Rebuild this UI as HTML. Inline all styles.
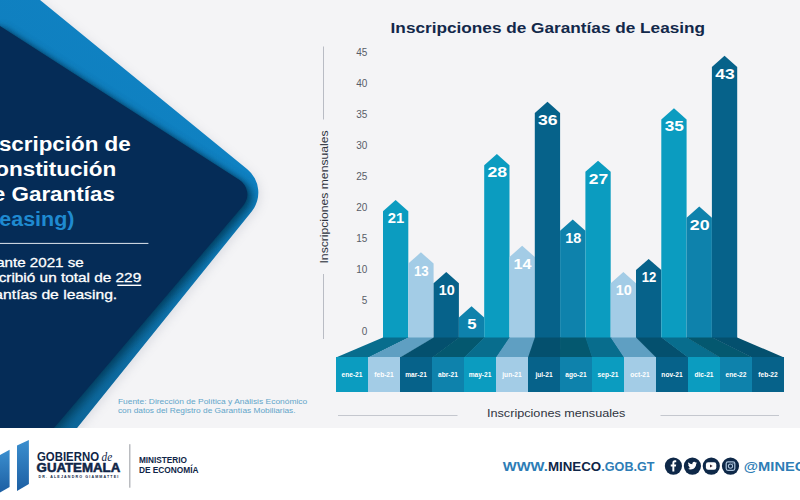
<!DOCTYPE html>
<html><head><meta charset="utf-8"><title>Inscripciones de Garantías de Leasing</title>
<style>
html,body{margin:0;padding:0;}
body{width:800px;height:500px;overflow:hidden;background:#f4f4f6;font-family:"Liberation Sans",sans-serif;position:relative;}
svg{position:absolute;left:0;top:0;}
text{font-family:"Liberation Sans",sans-serif;}
.mo{font-size:6.6px;font-weight:bold;fill:#fff;}
.num{font-size:13.8px;font-weight:bold;fill:#fff;}
.ax{font-size:10px;fill:#585d68;}
.ttl{font-size:15px;font-weight:bold;fill:#12284a;}
.h1{font-size:20px;font-weight:bold;fill:#fff;}
.body{font-size:13.4px;fill:#fff;stroke:#fff;stroke-width:0.3px;}
.src{font-size:7.3px;fill:#62a5c9;}
.xl{font-size:11px;fill:#30353f;}
</style></head><body>
<svg width="800" height="500" viewBox="0 0 800 500">
<defs>
<linearGradient id="gb" gradientUnits="userSpaceOnUse" x1="60" y1="300" x2="260" y2="100">
<stop offset="0" stop-color="#107cbb"/><stop offset="1" stop-color="#0f83c4"/></linearGradient>
<linearGradient id="dk" x1="0" y1="0" x2="0" y2="1"><stop offset="0" stop-color="#063f5e" stop-opacity="0"/><stop offset="1" stop-color="#063f5e" stop-opacity="0.36"/></linearGradient>
<filter id="sh3" x="-20%" y="-20%" width="140%" height="140%"><feGaussianBlur stdDeviation="2.2"/></filter>
<filter id="sh" x="-20%" y="-20%" width="140%" height="140%"><feGaussianBlur stdDeviation="5"/></filter>
<filter id="sh2" x="-20%" y="-20%" width="140%" height="140%"><feGaussianBlur stdDeviation="4"/></filter>
<clipPath id="cb"><path d="M-5.00 -5.00 L33.90 -5.00 L247.31 169.34 A30.00 30.00 0 0 1 251.68 211.41 L77.00 428.00 L-5.00 428.00 Z"/></clipPath>
<clipPath id="top"><rect x="0" y="0" width="800" height="428"/></clipPath>
<linearGradient id="lg" x1="0" y1="0" x2="0" y2="1"><stop offset="0" stop-color="#3b8fcf"/><stop offset="1" stop-color="#1d5fa3"/></linearGradient>
</defs>
<rect x="0" y="428" width="800" height="72" fill="#ffffff"/>
<g clip-path="url(#top)">
<path d="M-5.00 -5.00 L33.90 -5.00 L247.31 169.34 A30.00 30.00 0 0 1 251.68 211.41 L77.00 428.00 L-5.00 428.00 Z" fill="#9095a8" opacity="0.22" filter="url(#sh)" transform="translate(2.5,2.5)"/>
<path d="M-5.00 -5.00 L33.90 -5.00 L247.31 169.34 A30.00 30.00 0 0 1 251.68 211.41 L77.00 428.00 L-5.00 428.00 Z" fill="url(#gb)"/>
<g clip-path="url(#cb)">
<path d="M-5.00 22.80 L239.56 180.09 A17.00 17.00 0 0 1 243.31 205.40 L54.00 428.00 L-5.00 428.00 Z" fill="#063c5c" opacity="0.8" filter="url(#sh2)" transform="translate(5.5,3.5)"/>
<path d="M-5.00 22.80 L239.56 180.09 A17.00 17.00 0 0 1 243.31 205.40 L54.00 428.00 L-5.00 428.00 Z" fill="#04203f" opacity="0.45" filter="url(#sh3)"/>
<rect x="0" y="200" width="300" height="228" fill="url(#dk)"/>
</g>
<path d="M-5.00 22.80 L239.56 180.09 A17.00 17.00 0 0 1 243.31 205.40 L54.00 428.00 L-5.00 428.00 Z" fill="#052c57"/>
</g>
<!-- left texts -->
<text class="h1" x="-21" y="150.5" textLength="151.7" lengthAdjust="spacingAndGlyphs">Inscripción de</text>
<text class="h1" x="-21" y="175.7" textLength="137.2" lengthAdjust="spacingAndGlyphs">Constitución</text>
<text class="h1" x="-21" y="201" textLength="136" lengthAdjust="spacingAndGlyphs">de Garantías</text>
<text class="h1" x="-21" y="226.2" textLength="95.5" lengthAdjust="spacingAndGlyphs" style="fill:#1f8ad0">(Leasing)</text>
<rect x="0" y="242.9" width="148.4" height="1" fill="#dfe6ee"/>
<text class="body" x="-28.2" y="267" textLength="111.9" lengthAdjust="spacingAndGlyphs">Durante 2021 se</text>
<text class="body" x="-21" y="282.3" textLength="162.2" lengthAdjust="spacingAndGlyphs">inscribió un total de 229</text>
<rect x="117.3" y="284.6" width="24" height="1.4" fill="#fff"/>
<text class="body" x="-28.3" y="298.7" textLength="145.5" lengthAdjust="spacingAndGlyphs">garantías de leasing.</text>
<text class="src" x="117.9" y="403.9" textLength="189.4" lengthAdjust="spacingAndGlyphs">Fuente: Dirección de Política y Análisis Económico</text>
<text class="src" x="117.9" y="413" textLength="177.7" lengthAdjust="spacingAndGlyphs">con datos del Registro de Garantías Mobiliarias.</text>
<!-- chart -->
<text class="ttl" x="390.6" y="33.4" textLength="314.5" lengthAdjust="spacingAndGlyphs">Inscripciones de Garantías de Leasing</text>
<rect x="323" y="46.5" width="1" height="73" fill="#b9bcc4"/>
<rect x="323" y="274" width="1" height="65" fill="#b9bcc4"/>
<text class="xl" transform="translate(328,263.5) rotate(-90)" textLength="133" lengthAdjust="spacingAndGlyphs">Inscripciones mensuales</text>
<polygon fill="#0b9cc0" points="383.00,338.00 383.00,211.15 395.65,199.95 408.30,211.15 408.30,338.00"/>
<polygon fill="#a3cce6" points="408.30,338.00 408.30,263.55 420.95,252.35 433.60,263.55 433.60,338.00"/>
<polygon fill="#06628a" points="433.60,338.00 433.60,283.20 446.25,272.00 458.90,283.20 458.90,338.00"/>
<polygon fill="#0e82ac" points="458.90,338.00 458.90,317.55 471.55,306.35 484.20,317.55 484.20,338.00"/>
<polygon fill="#0b9cc0" points="484.20,338.00 484.20,165.30 496.85,154.10 509.50,165.30 509.50,338.00"/>
<polygon fill="#a3cce6" points="509.50,338.00 509.50,257.00 522.15,245.80 534.80,257.00 534.80,338.00"/>
<polygon fill="#06628a" points="534.80,338.00 534.80,112.90 547.45,101.70 560.10,112.90 560.10,338.00"/>
<polygon fill="#0e82ac" points="560.10,338.00 560.10,230.80 572.75,219.60 585.40,230.80 585.40,338.00"/>
<polygon fill="#0b9cc0" points="585.40,338.00 585.40,171.85 598.05,160.65 610.70,171.85 610.70,338.00"/>
<polygon fill="#a3cce6" points="610.70,338.00 610.70,283.20 623.35,272.00 636.00,283.20 636.00,338.00"/>
<polygon fill="#06628a" points="636.00,338.00 636.00,270.10 648.65,258.90 661.30,270.10 661.30,338.00"/>
<polygon fill="#0b9cc0" points="661.30,338.00 661.30,119.45 673.95,108.25 686.60,119.45 686.60,338.00"/>
<polygon fill="#0e82ac" points="686.60,338.00 686.60,217.70 699.25,206.50 711.90,217.70 711.90,338.00"/>
<polygon fill="#06628a" points="711.90,338.00 711.90,67.05 724.55,55.85 737.20,67.05 737.20,338.00"/>
<polygon fill="#086d8d" points="383.00,337.50 408.90,337.50 368.60,357.50 336.00,357.50"/>
<polygon fill="#5f9fc2" points="408.30,337.50 434.20,337.50 400.60,357.50 368.00,357.50"/>
<polygon fill="#04506e" points="433.60,337.50 459.50,337.50 432.60,357.50 400.00,357.50"/>
<polygon fill="#04586f" points="458.90,337.50 484.80,337.50 464.60,357.50 432.00,357.50"/>
<polygon fill="#086d8d" points="484.20,337.50 510.10,337.50 496.60,357.50 464.00,357.50"/>
<polygon fill="#5f9fc2" points="509.50,337.50 535.40,337.50 528.60,357.50 496.00,357.50"/>
<polygon fill="#04506e" points="534.80,337.50 560.70,337.50 560.60,357.50 528.00,357.50"/>
<polygon fill="#04586f" points="560.10,337.50 586.00,337.50 592.60,357.50 560.00,357.50"/>
<polygon fill="#086d8d" points="585.40,337.50 611.30,337.50 624.60,357.50 592.00,357.50"/>
<polygon fill="#5f9fc2" points="610.70,337.50 636.60,337.50 656.60,357.50 624.00,357.50"/>
<polygon fill="#04506e" points="636.00,337.50 661.90,337.50 688.60,357.50 656.00,357.50"/>
<polygon fill="#086d8d" points="661.30,337.50 687.20,337.50 720.60,357.50 688.00,357.50"/>
<polygon fill="#04586f" points="686.60,337.50 712.50,337.50 752.60,357.50 720.00,357.50"/>
<polygon fill="#04506e" points="711.90,337.50 737.20,337.50 784.00,357.50 752.00,357.50"/>
<rect fill="#0b9cc0" x="336.00" y="357.00" width="32.30" height="35.00"/>
<rect fill="#a3cce6" x="368.00" y="357.00" width="32.30" height="35.00"/>
<rect fill="#06628a" x="400.00" y="357.00" width="32.30" height="35.00"/>
<rect fill="#0e82ac" x="432.00" y="357.00" width="32.30" height="35.00"/>
<rect fill="#0b9cc0" x="464.00" y="357.00" width="32.30" height="35.00"/>
<rect fill="#a3cce6" x="496.00" y="357.00" width="32.30" height="35.00"/>
<rect fill="#06628a" x="528.00" y="357.00" width="32.30" height="35.00"/>
<rect fill="#0e82ac" x="560.00" y="357.00" width="32.30" height="35.00"/>
<rect fill="#0b9cc0" x="592.00" y="357.00" width="32.30" height="35.00"/>
<rect fill="#a3cce6" x="624.00" y="357.00" width="32.30" height="35.00"/>
<rect fill="#06628a" x="656.00" y="357.00" width="32.30" height="35.00"/>
<rect fill="#0b9cc0" x="688.00" y="357.00" width="32.30" height="35.00"/>
<rect fill="#0e82ac" x="720.00" y="357.00" width="32.30" height="35.00"/>
<rect fill="#06628a" x="752.00" y="357.00" width="32.00" height="35.00"/>
<text class="mo" x="352.00" y="377.3" text-anchor="middle">ene-21</text>
<text class="mo" x="384.00" y="377.3" text-anchor="middle">feb-21</text>
<text class="mo" x="416.00" y="377.3" text-anchor="middle">mar-21</text>
<text class="mo" x="448.00" y="377.3" text-anchor="middle">abr-21</text>
<text class="mo" x="480.00" y="377.3" text-anchor="middle">may-21</text>
<text class="mo" x="512.00" y="377.3" text-anchor="middle">jun-21</text>
<text class="mo" x="544.00" y="377.3" text-anchor="middle">jul-21</text>
<text class="mo" x="576.00" y="377.3" text-anchor="middle">ago-21</text>
<text class="mo" x="608.00" y="377.3" text-anchor="middle">sep-21</text>
<text class="mo" x="640.00" y="377.3" text-anchor="middle">oct-21</text>
<text class="mo" x="672.00" y="377.3" text-anchor="middle">nov-21</text>
<text class="mo" x="704.00" y="377.3" text-anchor="middle">dic-21</text>
<text class="mo" x="736.00" y="377.3" text-anchor="middle">ene-22</text>
<text class="mo" x="768.00" y="377.3" text-anchor="middle">feb-22</text>
<text class="num" x="396.05" y="223.15" text-anchor="middle" textLength="16.4" lengthAdjust="spacingAndGlyphs">21</text>
<text class="num" x="421.35" y="275.55" text-anchor="middle" textLength="14.8" lengthAdjust="spacingAndGlyphs">13</text>
<text class="num" x="446.65" y="295.20" text-anchor="middle" textLength="16.0" lengthAdjust="spacingAndGlyphs">10</text>
<text class="num" x="471.95" y="329.15" text-anchor="middle" textLength="9.3" lengthAdjust="spacingAndGlyphs">5</text>
<text class="num" x="497.25" y="177.30" text-anchor="middle" textLength="19.6" lengthAdjust="spacingAndGlyphs">28</text>
<text class="num" x="522.55" y="269.00" text-anchor="middle" textLength="18.0" lengthAdjust="spacingAndGlyphs">14</text>
<text class="num" x="547.85" y="124.90" text-anchor="middle" textLength="19.6" lengthAdjust="spacingAndGlyphs">36</text>
<text class="num" x="573.15" y="242.80" text-anchor="middle" textLength="16.0" lengthAdjust="spacingAndGlyphs">18</text>
<text class="num" x="598.45" y="183.85" text-anchor="middle" textLength="19.4" lengthAdjust="spacingAndGlyphs">27</text>
<text class="num" x="623.75" y="295.20" text-anchor="middle" textLength="16.0" lengthAdjust="spacingAndGlyphs">10</text>
<text class="num" x="649.05" y="282.10" text-anchor="middle" textLength="14.6" lengthAdjust="spacingAndGlyphs">12</text>
<text class="num" x="674.35" y="131.45" text-anchor="middle" textLength="19.2" lengthAdjust="spacingAndGlyphs">35</text>
<text class="num" x="699.65" y="229.70" text-anchor="middle" textLength="19.8" lengthAdjust="spacingAndGlyphs">20</text>
<text class="num" x="724.95" y="79.05" text-anchor="middle" textLength="19.5" lengthAdjust="spacingAndGlyphs">43</text>
<text class="ax" x="367.4" y="335.10" text-anchor="end">0</text>
<text class="ax" x="367.4" y="304.10" text-anchor="end">5</text>
<text class="ax" x="367.4" y="273.10" text-anchor="end">10</text>
<text class="ax" x="367.4" y="242.10" text-anchor="end">15</text>
<text class="ax" x="367.4" y="211.10" text-anchor="end">20</text>
<text class="ax" x="367.4" y="180.10" text-anchor="end">25</text>
<text class="ax" x="367.4" y="149.10" text-anchor="end">30</text>
<text class="ax" x="367.4" y="118.10" text-anchor="end">35</text>
<text class="ax" x="367.4" y="87.10" text-anchor="end">40</text>
<text class="ax" x="367.4" y="56.10" text-anchor="end">45</text>
<text class="xl" x="487" y="416.6" textLength="138.4" lengthAdjust="spacingAndGlyphs">Inscripciones mensuales</text>
<rect x="338" y="415" width="119.5" height="1" fill="#c4c7ce"/>
<rect x="660.5" y="415" width="118.5" height="1" fill="#c4c7ce"/>
<!-- footer logo -->
<polygon fill="url(#lg)" points="0,455 9.6,449.8 9.6,487 0,492.4"/>
<polygon fill="url(#lg)" points="17,445.6 28.9,440 28.9,484 17,491"/>
<text x="37" y="461.4" font-size="11.9" font-weight="bold" fill="#0f2547" textLength="62" lengthAdjust="spacingAndGlyphs">GOBIERNO</text>
<text x="101.5" y="461.4" font-size="11.5" font-style="italic" fill="#0f2547" style="font-family:'Liberation Serif',serif" textLength="10.7" lengthAdjust="spacingAndGlyphs">de</text>
<text x="36.6" y="472.3" font-size="11.9" font-weight="bold" fill="#0f2547" stroke="#0f2547" stroke-width="0.5" textLength="83.6" lengthAdjust="spacingAndGlyphs">GUATEMALA</text>
<text x="38.5" y="477.9" font-size="3.6" font-weight="bold" fill="#0f2547" textLength="79.8" lengthAdjust="spacing">DR. ALEJANDRO GIAMMATTEI</text>
<rect x="129.4" y="444.2" width="0.9" height="43.5" fill="#8d9097"/>
<text x="138.9" y="463.2" font-size="8.4" font-weight="bold" fill="#0f2547" textLength="48.1" lengthAdjust="spacingAndGlyphs">MINISTERIO</text>
<text x="138.9" y="472.5" font-size="8.4" font-weight="bold" fill="#0f2547" textLength="59.7" lengthAdjust="spacingAndGlyphs">DE ECONOMÍA</text>
<!-- footer right -->
<text x="502.8" y="470.5" font-size="12.4" font-weight="bold" fill="#2d7db6" textLength="45" lengthAdjust="spacingAndGlyphs">WWW.</text>
<text x="548" y="470.5" font-size="12.4" font-weight="bold" fill="#0f2547" textLength="53.2" lengthAdjust="spacingAndGlyphs">MINECO</text>
<text x="601.3" y="470.5" font-size="12.4" font-weight="bold" fill="#2d7db6" textLength="53.2" lengthAdjust="spacingAndGlyphs">.GOB.GT</text>
<g fill="#0e2848">
<circle cx="673.4" cy="466.1" r="8.6"/><circle cx="692.4" cy="466.1" r="8.6"/><circle cx="711.3" cy="466.1" r="8.6"/><circle cx="730.5" cy="466.1" r="8.6"/>
</g>
<!-- fb -->
<path fill="#fff" transform="translate(673.4,466) scale(0.92,0.97) translate(-673.6,-466.6)" d="M674.6 472.2v-5.2h1.75l.27-2.05h-2.02v-1.3c0-.6.17-1 1.02-1h1.08v-1.83c-.19-.02-.83-.08-1.58-.08-1.56 0-2.63.95-2.63 2.7v1.51h-1.77v2.05h1.77v5.2z"/>
<!-- tw -->
<path fill="#fff" transform="translate(692.4,466.2) scale(0.9) translate(-692.4,-466.4)" d="M697.6 462.6c-.38.17-.8.28-1.22.33.44-.26.78-.68.93-1.17-.41.24-.86.42-1.35.51a2.12 2.12 0 0 0-3.62 1.94 6.03 6.03 0 0 1-4.38-2.22 2.13 2.13 0 0 0 .66 2.84c-.35-.01-.68-.11-.96-.27v.03c0 1.03.73 1.89 1.7 2.08-.31.09-.64.1-.96.04.27.84 1.06 1.46 1.99 1.48a4.27 4.27 0 0 1-3.15.88 6.02 6.02 0 0 0 3.26.95c3.91 0 6.05-3.24 6.05-6.05v-.27c.41-.3.77-.67 1.05-1.1z"/>
<!-- yt -->
<rect x="705.9" y="462.2" width="10.4" height="7.5" rx="2.2" fill="#fff"/>
<polygon fill="#3a2a35" points="710.0,464.5 710.0,467.5 712.7,466"/>
<!-- ig -->
<rect x="726.2" y="461.8" width="8.6" height="8.6" rx="1.8" fill="none" stroke="#a9c0d8" stroke-width="1.25"/>
<circle cx="730.5" cy="466.1" r="2.1" fill="none" stroke="#a9c0d8" stroke-width="1.1"/>
<circle cx="733" cy="463.6" r="0.55" fill="#a9c0d8"/>
<text x="743.8" y="470.5" font-size="12.4" font-weight="bold" fill="#2d7db6" textLength="73" lengthAdjust="spacingAndGlyphs">@MINECO</text>
</svg>
</body></html>
